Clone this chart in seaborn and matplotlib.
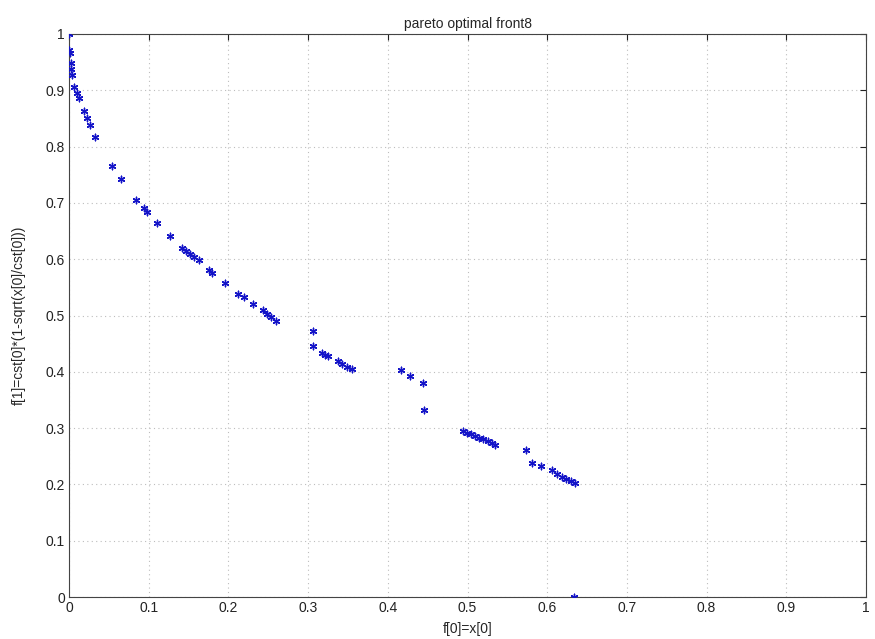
import matplotlib
matplotlib.use("Agg")
import matplotlib.pyplot as plt
import seaborn as sns
import pandas as pd

# Objective values of the non-dominated solutions
f0 = [0.000, 0.000, 0.001, 0.002, 0.003, 0.004, 0.006, 0.010, 0.0125,
      0.019, 0.023, 0.026, 0.0325, 0.054, 0.065, 0.0846, 0.094, 0.098,
      0.110, 0.127, 0.142, 0.147, 0.152, 0.157, 0.1625, 0.175, 0.179,
      0.196, 0.2125, 0.219, 0.231, 0.244, 0.249, 0.254, 0.260,
      0.306, 0.306, 0.317, 0.321, 0.325, 0.338, 0.343, 0.349, 0.355,
      0.417, 0.428, 0.444, 0.446,
      0.494, 0.499, 0.505, 0.510, 0.515, 0.520, 0.526, 0.531, 0.535,
      0.574, 0.581, 0.592, 0.606, 0.612, 0.618, 0.624, 0.630, 0.635,
      0.633]
f1 = [1.000, 0.972, 0.966, 0.949, 0.937, 0.928, 0.905, 0.896, 0.887,
      0.863, 0.851, 0.839, 0.817, 0.765, 0.742, 0.706, 0.691, 0.684,
      0.665, 0.642, 0.620, 0.615, 0.609, 0.604, 0.599, 0.581, 0.575,
      0.557, 0.539, 0.533, 0.520, 0.509, 0.503, 0.497, 0.491,
      0.472, 0.446, 0.433, 0.430, 0.428, 0.419, 0.414, 0.409, 0.405,
      0.403, 0.393, 0.381, 0.333,
      0.294, 0.292, 0.289, 0.286, 0.283, 0.280, 0.277, 0.273, 0.270,
      0.262, 0.238, 0.232, 0.226, 0.219, 0.214, 0.210, 0.206, 0.203,
      0.000]

x_ticks = [0, 0.1, 0.2, 0.3, 0.4, 0.5, 0.6, 0.7, 0.8, 0.9, 1]
x_tick_labels = ["0", "0.1", "0.2", "0.3", "0.4", "0.5", "0.6", "0.7", "0.8", "0.9", "1"]
y_ticks = [0, 0.1, 0.2, 0.3, 0.4, 0.5, 0.6, 0.7, 0.8, 0.9, 1]
y_tick_labels = ["0", "0.1", "0.2", "0.3", "0.4", "0.5", "0.6", "0.7", "0.8", "0.9", "1"]

sns.set_style("white")
plt.rcParams["font.family"] = ["Liberation Sans", "DejaVu Sans"]

df = pd.DataFrame({"f0": f0, "f1": f1})

fig = plt.figure(figsize=(8.75, 6.39), dpi=100)
ax = fig.add_axes([0.0789, 0.0657, 0.9108, 0.8811])

sns.scatterplot(data=df, x="f0", y="f1", ax=ax, marker=(6, 2, 0), s=22,
                color="#1414c8", linewidth=1.0, edgecolor="#1414c8", zorder=3)

ax.set_xlim(0, 1)
ax.set_ylim(0, 1)
ax.set_xticks(x_ticks)
ax.set_xticklabels(x_tick_labels)
ax.set_yticks(y_ticks)
ax.set_yticklabels(y_tick_labels)
ax.grid(True, linestyle=(0, (1, 3)), color="#bdbdbd", linewidth=0.8)
ax.tick_params(direction="in", length=4, top=True, right=True,
               labelsize=10, colors="#222222", pad=3)
for sp in ax.spines.values():
    sp.set_color("#444444")
    sp.set_linewidth(0.8)

ax.set_title("pareto optimal front8", fontsize=10, pad=4)
ax.set_xlabel("f[0]=x[0]", fontsize=10, labelpad=5)
ax.set_ylabel("f[1]=cst[0]*(1-sqrt(x[0]/cst[0]))", fontsize=10, labelpad=14)

fig.savefig("out.png", dpi=100)
